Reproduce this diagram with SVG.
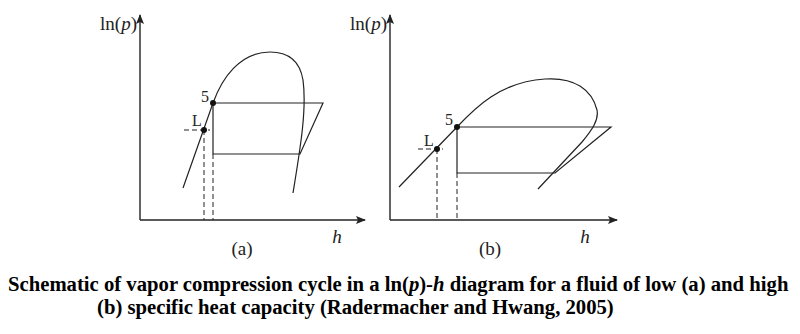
<svg xmlns="http://www.w3.org/2000/svg" width="800" height="334" viewBox="0 0 800 334">
<style>
.ln{fill:none;stroke:#222;stroke-width:1.2}
.ax{fill:none;stroke:#222;stroke-width:1.4}
.ds{fill:none;stroke:#222;stroke-width:1;stroke-dasharray:5,3}
.t{font-family:"Liberation Serif",serif;font-size:19px;fill:#222}
.s{font-family:"Liberation Serif",serif;font-size:16px;fill:#222}
.cap{font-family:"Liberation Serif",serif;font-size:20.7px;font-weight:bold;fill:#000}
.dot{fill:#111}
</style>
<defs>
<marker id="arr" markerWidth="10" markerHeight="8" refX="9" refY="4" orient="auto" markerUnits="userSpaceOnUse">
<path d="M0,0 L10,4 L0,8 L2,4 Z" fill="#222"/>
</marker>
</defs>
<rect width="800" height="334" fill="#fff"/>
<g id="panel-a">
<g id="axes-a">
<line class="ax" x1="140" y1="220" x2="140" y2="15" marker-end="url(#arr)"/>
<line class="ax" x1="140" y1="220" x2="365" y2="220" marker-end="url(#arr)"/>
</g>
<path id="dome-a" class="ln" d="M183,188 L213,103 C222,78 240,52 270,52 C290,52 300,62 303,80 C307,110 300,150 293,193"/>
<g id="cycle-a">
<path class="ln" d="M213,103 L323,103 L300,154 L213,154 Z"/>
<line class="ds" x1="204" y1="130" x2="204" y2="220"/>
<line class="ds" x1="213" y1="154" x2="213" y2="220"/>
<line class="ds" x1="184" y1="130" x2="210" y2="130"/>
</g>
<circle class="dot" cx="204" cy="130" r="3"/>
<circle class="dot" cx="213" cy="103" r="3"/>
<text class="s" x="205" y="102" text-anchor="middle">5</text>
<text class="s" x="197" y="126" text-anchor="middle">L</text>
<text class="t" x="137" y="30" text-anchor="end">ln(<tspan font-style="italic">p</tspan>)</text>
<text class="t" x="337" y="243" text-anchor="middle" font-style="italic">h</text>
<text class="t" x="242" y="255" text-anchor="middle">(a)</text>
</g>
<g id="panel-b">
<g id="axes-b">
<line class="ax" x1="390" y1="220" x2="390" y2="15" marker-end="url(#arr)"/>
<line class="ax" x1="390" y1="220" x2="617" y2="220" marker-end="url(#arr)"/>
</g>
<path id="dome-b" class="ln" d="M399,187 L457,127 C475,108 500,82 545,79 C575,77 592,90 597,110 C599,120 592,130 582,142 L538,189"/>
<g id="cycle-b">
<path class="ln" d="M457,127 L611,127 L555,173 L457,173 Z"/>
<line class="ds" x1="437" y1="149" x2="437" y2="220"/>
<line class="ds" x1="457" y1="173" x2="457" y2="220"/>
<line class="ds" x1="418" y1="149" x2="443" y2="149"/>
</g>
<circle class="dot" cx="437" cy="149" r="3"/>
<circle class="dot" cx="457" cy="127" r="3"/>
<text class="s" x="449" y="125" text-anchor="middle">5</text>
<text class="s" x="429" y="146" text-anchor="middle">L</text>
<text class="t" x="387" y="30" text-anchor="end">ln(<tspan font-style="italic">p</tspan>)</text>
<text class="t" x="585" y="243" text-anchor="middle" font-style="italic">h</text>
<text class="t" x="490" y="255" text-anchor="middle">(b)</text>
</g>
<g id="caption">
<text class="cap" x="8" y="291">Schematic of vapor compression cycle in a ln(<tspan font-style="italic">p</tspan>)-<tspan font-style="italic">h</tspan> diagram for a fluid of low (a) and high</text>
<text class="cap" x="97" y="314">(b) specific heat capacity (Radermacher and Hwang, 2005)</text>
</g>
</svg>
